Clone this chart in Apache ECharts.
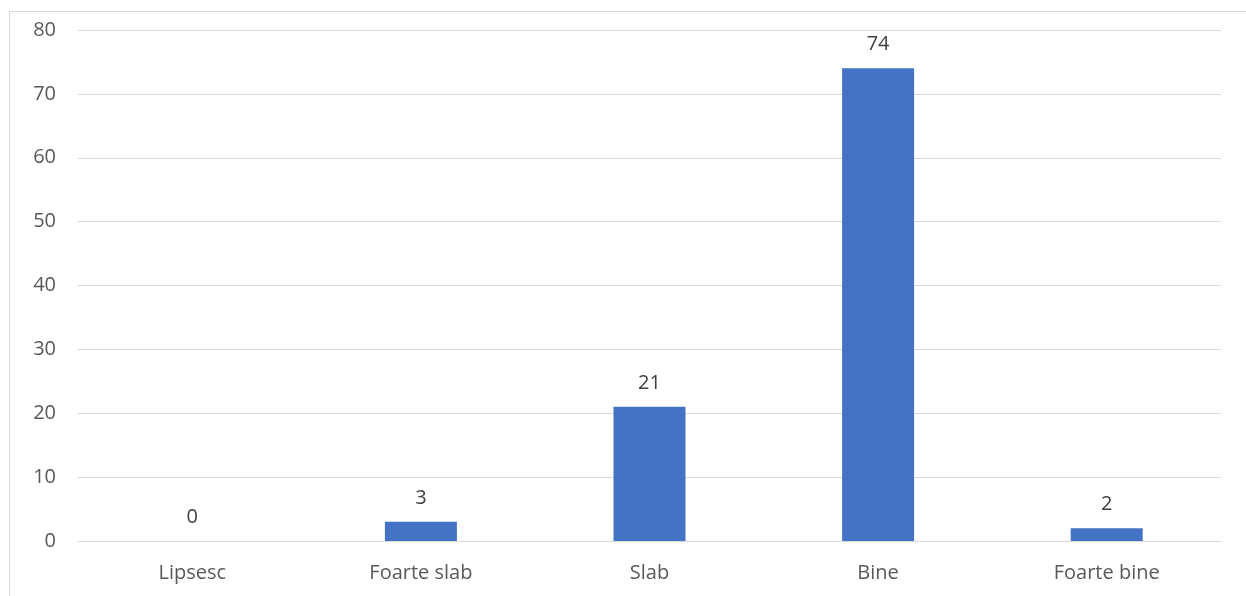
<!DOCTYPE html>
<html><head><meta charset="utf-8">
<script src="https://cdn.jsdelivr.net/npm/echarts@6/dist/echarts.min.js"></script>
<style>
html,body{margin:0;padding:0;background:#fff;}
#wrap{position:relative;width:1246px;height:596px;overflow:hidden;}
#frame{position:absolute;left:9px;top:11px;width:1300px;height:700px;border-left:1px solid #d9d9d9;border-top:1px solid #d9d9d9;}
#main{position:absolute;left:0;top:0;width:1246px;height:596px;}
</style></head>
<body><div id="wrap"><div id="frame"></div><div id="main"></div></div>
<script>
const categories = ["Lipsesc", "Foarte slab", "Slab", "Bine", "Foarte bine"];
const values = [0, 3, 21, 74, 2];
const yTicks = [0, 10, 20, 30, 40, 50, 60, 70, 80];

const chart = echarts.init(document.getElementById('main'), null, {renderer: 'canvas'});
const font = "Open Sans";
chart.setOption({
  animation: false,
  grid: {left: 78, right: 25, top: 30, bottom: 55, containLabel: false},
  xAxis: {
    type: 'category', data: categories,
    axisLine: {lineStyle: {color: '#d9d9d9', width: 1}},
    axisTick: {show: false},
    axisLabel: {color: '#595959', fontSize: 20, fontFamily: font, margin: 22}
  },
  yAxis: {
    type: 'value', min: yTicks[0], max: yTicks[yTicks.length - 1], interval: 10,
    axisLine: {show: false}, axisTick: {show: false},
    splitLine: {lineStyle: {color: '#d9d9d9', width: 1}},
    axisLabel: {color: '#595959', fontSize: 20, fontFamily: font, margin: 22}
  },
  series: [{
    type: 'bar', data: values, barWidth: 72,
    itemStyle: {color: '#4472c4'},
    label: {show: true, position: 'top', distance: 14, color: '#404040', fontSize: 20, fontFamily: font}
  }]
});
</script></body></html>
